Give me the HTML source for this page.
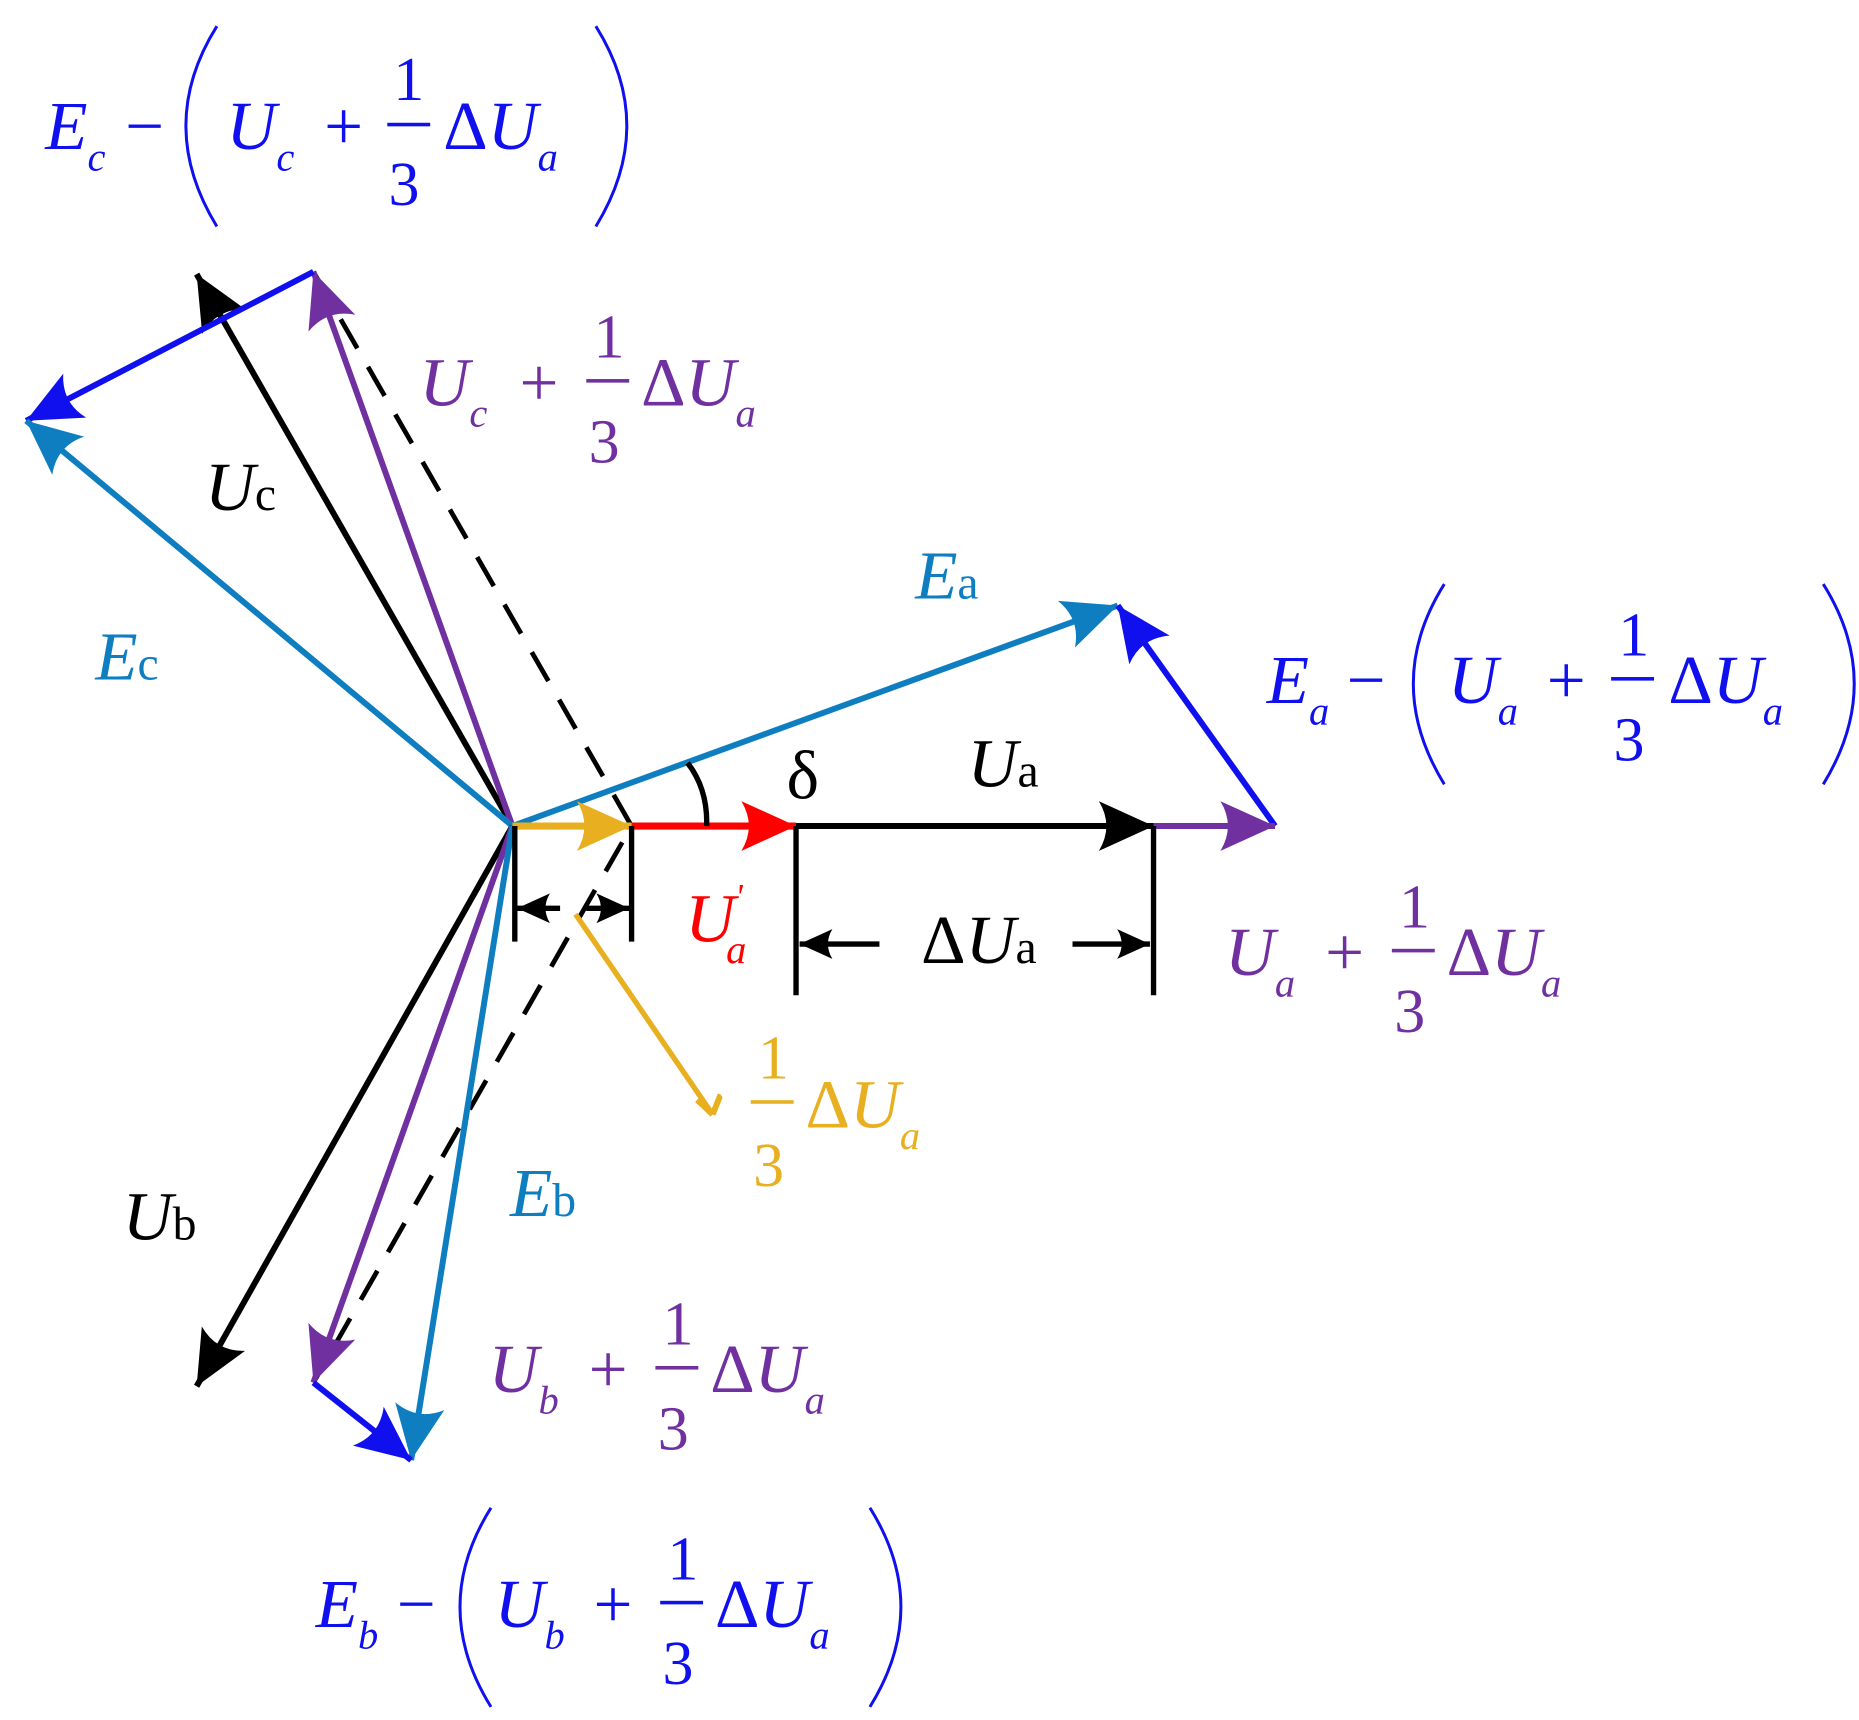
<!DOCTYPE html>
<html><head><style>html,body{margin:0;padding:0;background:#fff}svg{display:block}</style></head>
<body>
<svg width="1859" height="1720" viewBox="0 0 1560 1443" preserveAspectRatio="none" xmlns="http://www.w3.org/2000/svg" font-family="'Liberation Serif', serif" font-style="italic">
<defs>
<marker id="ak" markerUnits="userSpaceOnUse" markerWidth="50" markerHeight="50" viewBox="-44 -22 48 44" refX="0" refY="0" orient="auto"><path d="M0,0 L-44,-20 Q-32,0 -44,20 Z" fill="#000"/></marker>
<marker id="ap" markerUnits="userSpaceOnUse" markerWidth="50" markerHeight="50" viewBox="-44 -22 48 44" refX="0" refY="0" orient="auto"><path d="M0,0 L-44,-20 Q-32,0 -44,20 Z" fill="#7030a0"/></marker>
<marker id="at" markerUnits="userSpaceOnUse" markerWidth="50" markerHeight="50" viewBox="-44 -22 48 44" refX="0" refY="0" orient="auto"><path d="M0,0 L-44,-20 Q-32,0 -44,20 Z" fill="#0e7ec0"/></marker>
<marker id="ab" markerUnits="userSpaceOnUse" markerWidth="50" markerHeight="50" viewBox="-44 -22 48 44" refX="0" refY="0" orient="auto"><path d="M0,0 L-44,-20 Q-32,0 -44,20 Z" fill="#1010ee"/></marker>
<marker id="ao" markerUnits="userSpaceOnUse" markerWidth="50" markerHeight="50" viewBox="-44 -22 48 44" refX="0" refY="0" orient="auto"><path d="M0,0 L-44,-20 Q-32,0 -44,20 Z" fill="#e8b020"/></marker>
<marker id="ar" markerUnits="userSpaceOnUse" markerWidth="50" markerHeight="50" viewBox="-44 -22 48 44" refX="0" refY="0" orient="auto"><path d="M0,0 L-44,-20 Q-32,0 -44,20 Z" fill="#ff0000"/></marker>
<marker id="sk" markerUnits="userSpaceOnUse" markerWidth="30" markerHeight="30" viewBox="-22 -12 24 24" refX="0" refY="0" orient="auto"><path d="M0,0 L-22,-10 Q-16,0 -22,10 Z" fill="#000"/></marker>
<marker id="so" markerUnits="userSpaceOnUse" markerWidth="30" markerHeight="30" viewBox="-22 -12 24 24" refX="0" refY="0" orient="auto"><path d="M0,0 L-8,-12 M0,0 L-14,3" stroke="#e8b020" stroke-width="4" fill="none"/></marker>
</defs>
<g stroke-width="5" fill="none">
<path d="M263,228 L530,693 L263,1160" stroke="#000" stroke-dasharray="28,18" stroke-width="4"/>
<line x1="430" y1="693" x2="165" y2="230" stroke="#000" marker-end="url(#ak)"/>
<line x1="430" y1="693" x2="263" y2="228" stroke="#7030a0" marker-end="url(#ap)"/>
<line x1="263" y1="228" x2="22" y2="353" stroke="#1010ee" marker-end="url(#ab)"/>
<line x1="430" y1="693" x2="22" y2="353" stroke="#0e7ec0" marker-end="url(#at)"/>
<line x1="430" y1="693" x2="938" y2="508" stroke="#0e7ec0" marker-end="url(#at)"/>
<line x1="1070" y1="693" x2="938" y2="508" stroke="#1010ee" marker-end="url(#ab)"/>
<line x1="430" y1="693" x2="165" y2="1163" stroke="#000" marker-end="url(#ak)"/>
<line x1="430" y1="693" x2="263" y2="1160" stroke="#7030a0" marker-end="url(#ap)"/>
<line x1="430" y1="693" x2="345" y2="1225" stroke="#0e7ec0" marker-end="url(#at)"/>
<line x1="263" y1="1160" x2="345" y2="1225" stroke="#1010ee" marker-end="url(#ab)"/>
<line x1="430" y1="693" x2="1070" y2="693" stroke="#7030a0" stroke-width="3"/>
<line x1="430" y1="693" x2="530" y2="693" stroke="#e8b020" stroke-width="6" marker-end="url(#ao)"/>
<line x1="530" y1="693" x2="668" y2="693" stroke="#ff0000" stroke-width="6" marker-end="url(#ar)"/>
<line x1="668" y1="693" x2="968" y2="693" stroke="#000" stroke-width="5" marker-end="url(#ak)"/>
<line x1="968" y1="693" x2="1070" y2="693" stroke="#7030a0" stroke-width="5" marker-end="url(#ap)"/>
<g stroke="#000" stroke-width="4.5">
<line x1="432" y1="693" x2="432" y2="790"/>
<line x1="530" y1="693" x2="530" y2="790"/>
<line x1="668" y1="693" x2="668" y2="835"/>
<line x1="968" y1="693" x2="968" y2="835"/>
<line x1="470" y1="762" x2="434" y2="762" marker-end="url(#sk)"/>
<line x1="492" y1="762" x2="528" y2="762" marker-end="url(#sk)"/>
<line x1="738" y1="792" x2="671" y2="792" marker-end="url(#sk)"/>
<line x1="900" y1="792" x2="965" y2="792" marker-end="url(#sk)"/>
<path d="M577,640 Q594,662 593,693"/>
</g>
<line x1="483" y1="767" x2="598" y2="935" stroke="#e8b020" stroke-width="4.5" marker-end="url(#so)"/>
<g stroke-width="2.5" stroke="#1010ee">
<path d="M182,22 Q130,105 182,190"/>
<path d="M500,22 Q552,105 500,190"/>
<path d="M1212,490 Q1160,573 1212,658"/>
<path d="M1530,490 Q1582,573 1530,658"/>
<path d="M412,1265 Q360,1348 412,1432"/>
<path d="M730,1265 Q782,1348 730,1432"/>
</g>
</g>
<g font-size="58">
<g fill="#1010ee">
<text x="38" y="125">E<tspan font-size="34" dy="18">c</tspan></text>
<text x="105" y="125" font-style="normal">−</text>
<text x="190" y="125">U<tspan font-size="34" dy="18">c</tspan></text>
<text x="272" y="125" font-style="normal">+</text>
<text x="330" y="84" font-style="normal" font-size="52">1</text>
<rect x="325" y="103" width="36" height="3"/>
<text x="326" y="172" font-style="normal" font-size="52">3</text>
<text x="372" y="125"><tspan font-style="normal">Δ</tspan>U<tspan font-size="34" dy="18">a</tspan></text>
</g>
<g fill="#7030a0">
<text x="352" y="340">U<tspan font-size="34" dy="18">c</tspan></text>
<text x="436" y="340" font-style="normal">+</text>
<text x="498" y="300" font-style="normal" font-size="52">1</text>
<rect x="492" y="318" width="36" height="3"/>
<text x="494" y="388" font-style="normal" font-size="52">3</text>
<text x="538" y="340"><tspan font-style="normal">Δ</tspan>U<tspan font-size="34" dy="18">a</tspan></text>
</g>
<text x="172" y="428" fill="#000">U<tspan font-style="normal" font-size="40">c</tspan></text>
<text x="80" y="570" fill="#0e7ec0">E<tspan font-style="normal" font-size="40">c</tspan></text>
<text x="768" y="502" fill="#0e7ec0">E<tspan font-style="normal" font-size="40">a</tspan></text>
<text x="660" y="670" fill="#000" font-style="normal">δ</text>
<text x="812" y="660" fill="#000">U<tspan font-style="normal" font-size="40">a</tspan></text>
<g fill="#1010ee">
<text x="1063" y="590">E<tspan font-size="34" dy="18">a</tspan></text>
<text x="1130" y="590" font-style="normal">−</text>
<text x="1215" y="590">U<tspan font-size="34" dy="18">a</tspan></text>
<text x="1298" y="590" font-style="normal">+</text>
<text x="1358" y="550" font-style="normal" font-size="52">1</text>
<rect x="1352" y="568" width="36" height="3"/>
<text x="1354" y="638" font-style="normal" font-size="52">3</text>
<text x="1400" y="590"><tspan font-style="normal">Δ</tspan>U<tspan font-size="34" dy="18">a</tspan></text>
</g>
<text x="575" y="790" fill="#ff0000">U<tspan font-size="30" dy="-28">'</tspan><tspan font-size="34" dx="-14" dy="46">a</tspan></text>
<text x="773" y="808" fill="#000"><tspan font-style="normal">Δ</tspan>U<tspan font-style="normal" font-size="40">a</tspan></text>
<g fill="#7030a0">
<text x="1028" y="818">U<tspan font-size="34" dy="18">a</tspan></text>
<text x="1112" y="818" font-style="normal">+</text>
<text x="1174" y="778" font-style="normal" font-size="52">1</text>
<rect x="1168" y="796" width="36" height="3"/>
<text x="1170" y="866" font-style="normal" font-size="52">3</text>
<text x="1214" y="818"><tspan font-style="normal">Δ</tspan>U<tspan font-size="34" dy="18">a</tspan></text>
</g>
<g fill="#e8b020">
<text x="636" y="905" font-style="normal" font-size="52">1</text>
<rect x="630" y="923" width="36" height="3"/>
<text x="632" y="995" font-style="normal" font-size="52">3</text>
<text x="676" y="946"><tspan font-style="normal">Δ</tspan>U<tspan font-size="34" dy="18">a</tspan></text>
</g>
<text x="428" y="1020" fill="#0e7ec0">E<tspan font-style="normal" font-size="40">b</tspan></text>
<text x="103" y="1040" fill="#000">U<tspan font-style="normal" font-size="40">b</tspan></text>
<g fill="#7030a0">
<text x="410" y="1168">U<tspan font-size="34" dy="18">b</tspan></text>
<text x="494" y="1168" font-style="normal">+</text>
<text x="556" y="1128" font-style="normal" font-size="52">1</text>
<rect x="550" y="1146" width="36" height="3"/>
<text x="552" y="1216" font-style="normal" font-size="52">3</text>
<text x="596" y="1168"><tspan font-style="normal">Δ</tspan>U<tspan font-size="34" dy="18">a</tspan></text>
</g>
<g fill="#1010ee">
<text x="265" y="1365">E<tspan font-size="34" dy="18">b</tspan></text>
<text x="333" y="1365" font-style="normal">−</text>
<text x="415" y="1365">U<tspan font-size="34" dy="18">b</tspan></text>
<text x="498" y="1365" font-style="normal">+</text>
<text x="560" y="1325" font-style="normal" font-size="52">1</text>
<rect x="554" y="1343" width="36" height="3"/>
<text x="556" y="1413" font-style="normal" font-size="52">3</text>
<text x="600" y="1365"><tspan font-style="normal">Δ</tspan>U<tspan font-size="34" dy="18">a</tspan></text>
</g>
</g>
</svg>
</body></html>
